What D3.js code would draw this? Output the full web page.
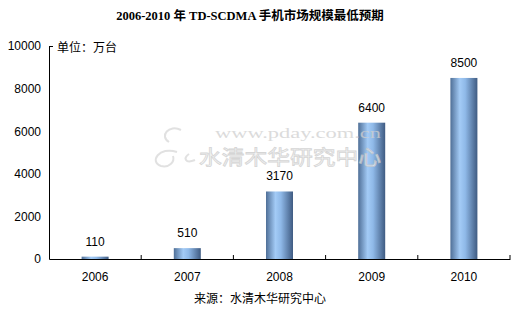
<!DOCTYPE html>
<html>
<head>
<meta charset="utf-8">
<script src="https://cdn.jsdelivr.net/npm/d3@7"></script>
<style>
  body { margin: 0; background: #fff; }
  svg { display: block; }
  text { font-family: "Liberation Sans", Arial, "Noto Sans CJK SC", sans-serif; }
</style>
</head>
<body>
<div id="chart"></div>
<script>
// chart data
const years = ["2006", "2007", "2008", "2009", "2010"];
const volumes = [110, 510, 3170, 6400, 8500];
const yTicks = [0, 2000, 4000, 6000, 8000, 10000];
const titleText = "2006-2010 年 TD-SCDMA 手机市场规模最低预期";
const unitText = "单位：万台";
const sourceText = "来源：水清木华研究中心";

const size = {width: 516, height: 315};
const margin = {top: 46, right: 6, bottom: 56, left: 49};
const width = size.width - margin.left - margin.right;
const height = size.height - margin.top - margin.bottom;

const svg = d3.select("#chart").append("svg")
    .attr("width", size.width)
    .attr("height", size.height);

// bar gradient, cylinder look
const grad = svg.append("defs").append("linearGradient")
    .attr("id", "barGrad")
    .attr("x1", "0%").attr("x2", "100%").attr("y1", "0%").attr("y2", "0%");
grad.append("stop").attr("offset", "0%").attr("stop-color", "#4f6f97");
grad.append("stop").attr("offset", "35%").attr("stop-color", "#a3cbf6");
grad.append("stop").attr("offset", "55%").attr("stop-color", "#8fb9e8");
grad.append("stop").attr("offset", "100%").attr("stop-color", "#3f5b82");

// title
svg.append("text")
    .attr("x", 250)
    .attr("y", 20)
    .attr("text-anchor", "middle")
    .style("font-family", "'Liberation Serif', 'Noto Sans CJK SC', serif")
    .style("font-weight", "bold")
    .style("font-size", "12.5px")
    .attr("fill", "#000")
    .text(titleText);

const g = svg.append("g")
    .attr("transform", "translate(" + margin.left + "," + margin.top + ")");

const xScale = d3.scaleBand().domain(years).range([0, width]).paddingInner(0).paddingOuter(0);
const yScale = d3.scaleLinear().domain([0, 10000]).range([height, 0]);

// bars
const barW = 27;
g.selectAll(".bar")
    .data(volumes)
    .join("rect")
    .attr("class", "bar")
    .attr("x", (d, i) => xScale(years[i]) + xScale.bandwidth() / 2 - barW / 2)
    .attr("y", d => yScale(d))
    .attr("width", barW)
    .attr("height", d => height - yScale(d))
    .attr("fill", "url(#barGrad)");

// watermark (sits over the bars, faint)
const wm = g.append("g").attr("class", "watermark").attr("opacity", 0.75);
wm.append("text")
    .attr("x", 166)
    .attr("y", 92)
    .attr("textLength", 166)
    .attr("lengthAdjust", "spacingAndGlyphs")
    .style("font-family", "'Liberation Serif', serif")
    .style("font-size", "14px")
    .attr("fill", "#d0d0d0")
    .text("www.pday.com.cn");
wm.append("text")
    .attr("x", 150)
    .attr("y", 119)
    .attr("textLength", 182)
    .attr("lengthAdjust", "spacingAndGlyphs")
    .style("font-family", "'Noto Sans CJK SC', sans-serif")
    .style("font-size", "20px")
    .attr("fill", "#f2f2f2")
    .attr("stroke", "#c8c8c8")
    .attr("stroke-width", 0.8)
    .text("水清木华研究中心");
wm.append("path")
    .attr("d", "M132,84 C120,78 110,90 120,96 M128,106 C110,100 100,116 112,120 C120,122 126,116 124,110 M140,108 C134,112 136,118 146,114")
    .attr("fill", "none")
    .attr("stroke", "#d8d8d8")
    .attr("stroke-width", 2);

// value labels
g.selectAll(".valLabel")
    .data(volumes)
    .join("text")
    .attr("class", "valLabel")
    .attr("x", (d, i) => xScale(years[i]) + xScale.bandwidth() / 2)
    .attr("y", d => yScale(d) - 11)
    .attr("text-anchor", "middle")
    .style("font-size", "12px")
    .attr("fill", "#000")
    .text(d => d);

// y axis
const yAxis = g.append("g").attr("class", "yAxisG")
    .call(d3.axisLeft(yScale).tickValues(yTicks).tickSize(0).tickPadding(8).tickFormat(d3.format("d")));
yAxis.select(".domain").attr("stroke", "#000");
yAxis.selectAll("text").style("font-size", "12px").attr("fill", "#000");
g.append("line")
    .attr("x1", 0).attr("x2", 4)
    .attr("y1", yScale(10000) + 0.5).attr("y2", yScale(10000) + 0.5)
    .attr("stroke", "#000");

// x axis
const xAxis = g.append("g").attr("class", "xAxisG")
    .attr("transform", "translate(0," + height + ")")
    .call(d3.axisBottom(xScale).tickSize(0).tickPadding(13));
xAxis.select(".domain").attr("stroke", "#000");
xAxis.selectAll("text").style("font-size", "12px").attr("fill", "#000");
// band boundary ticks
g.selectAll(".bandTick")
    .data(years)
    .join("line")
    .attr("class", "bandTick")
    .attr("x1", d => xScale(d) + xScale.bandwidth())
    .attr("x2", d => xScale(d) + xScale.bandwidth())
    .attr("y1", height)
    .attr("y2", height - 4)
    .attr("stroke", "#000");

// unit label
g.append("text")
    .attr("x", 8)
    .attr("y", 6)
    .style("font-family", "'Noto Sans CJK SC', sans-serif")
    .style("font-size", "12px")
    .attr("fill", "#000")
    .text(unitText);

// source
svg.append("text")
    .attr("x", 260)
    .attr("y", 303)
    .attr("text-anchor", "middle")
    .style("font-family", "'Noto Sans CJK SC', sans-serif")
    .style("font-size", "12px")
    .attr("fill", "#000")
    .text(sourceText);
</script>
</body>
</html>
